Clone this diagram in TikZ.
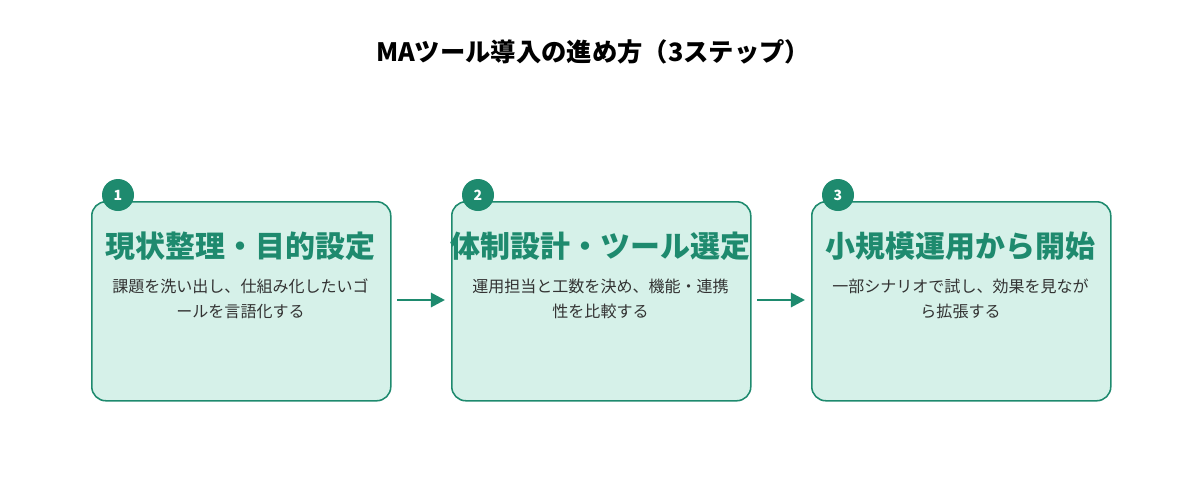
\documentclass[tikz,border=0pt]{standalone}
\usepackage{fontspec}
\setmainfont{Noto Sans CJK JP}
\usetikzlibrary{arrows.meta}
\definecolor{teal}{HTML}{1E8A6E}
\definecolor{mint}{HTML}{D6F1E9}
\definecolor{txt}{HTML}{333333}
\begin{document}
\begin{tikzpicture}[x=0.025cm,y=-0.025cm,
 box/.style={draw=teal,line width=1.1pt,fill=mint,rounded corners=10pt,minimum width=299*0.025cm,minimum height=199*0.025cm,anchor=north west,inner sep=0},
 num/.style={circle,fill=teal,text=white,minimum size=32*0.025cm,inner sep=0,font=\fontsize{10}{12}\selectfont\bfseries},
 head/.style={text=teal,font=\fontsize{21.3}{24}\selectfont\bfseries,inner sep=0},
 desc/.style={text=txt,font=\fontsize{11.4}{17.8}\selectfont,align=center,inner sep=0},
 arr/.style={draw=teal,line width=2pt,-{Triangle[length=10pt,width=10pt]}}]
\useasboundingbox (0,0) rectangle (1200,500);
\node[font=\fontsize{18}{20}\selectfont\bfseries,inner sep=0] (title) at (593,52) {MAツール導入の進め方（3ステップ）};
\node[box] (b1) at (91,201) {};
\node[box] (b2) at (451,201) {};
\node[box] (b3) at (811,201) {};
\node[num] (n1) at (118,195) {1};
\node[num] (n2) at (478,195) {2};
\node[num] (n3) at (838,195) {3};
\node[head] (h1) at (240.5,246) {現状整理・目的設定};
\node[head] (h2) at (600.5,246) {体制設計・ツール選定};
\node[head] (h3) at (960.5,246) {小規模運用から開始};
\node[desc] (d1) at (240.5,299) {課題を洗い出し、仕組み化したいゴ\\ールを言語化する};
\node[desc] (d2) at (600.5,299) {運用担当と工数を決め、機能・連携\\性を比較する};
\node[desc] (d3) at (960.5,299) {一部シナリオで試し、効果を見なが\\ら拡張する};
\coordinate (a1s) at (397,300); \coordinate (a1e) at (445,300);
\coordinate (a2s) at (757,300); \coordinate (a2e) at (805,300);
\draw[arr] (a1s) -- (a1e);
\draw[arr] (a2s) -- (a2e);
\end{tikzpicture}
\end{document}
